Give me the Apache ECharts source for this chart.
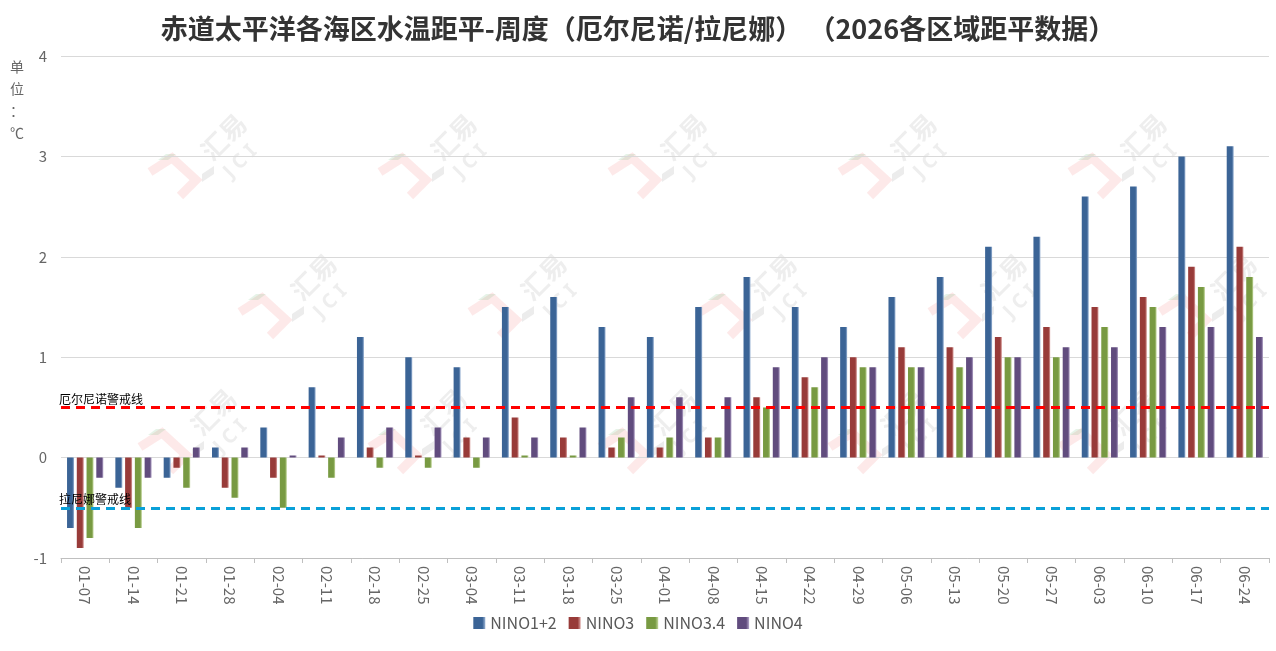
<!DOCTYPE html>
<html>
<head>
<meta charset="utf-8">
<script src="https://cdn.jsdelivr.net/npm/echarts@6/dist/echarts.min.js"></script>
<style>
  html,body{margin:0;padding:0;background:#fff;}
  .main{width:1276px;height:651px;}
</style>
</head>
<body>
<div class="main" id="main"></div>
<script>
var weeks=['01-07','01-14','01-21','01-28','02-04','02-11','02-18','02-25','03-04','03-11','03-18','03-25','04-01','04-08','04-15','04-22','04-29','05-06','05-13','05-20','05-27','06-03','06-10','06-17','06-24'];
var nino12=[-0.7,-0.3,-0.2,0.1,0.3,0.7,1.2,1.0,0.9,1.5,1.6,1.3,1.2,1.5,1.8,1.5,1.3,1.6,1.8,2.1,2.2,2.6,2.7,3.0,3.1];
var nino3=[-0.9,-0.5,-0.1,-0.3,-0.2,0.02,0.1,0.02,0.2,0.4,0.2,0.1,0.1,0.2,0.6,0.8,1.0,1.1,1.1,1.2,1.3,1.5,1.6,1.9,2.1];
var nino34=[-0.8,-0.7,-0.3,-0.4,-0.5,-0.2,-0.1,-0.1,-0.1,0.02,0.02,0.2,0.2,0.2,0.5,0.7,0.9,0.9,0.9,1.0,1.0,1.3,1.5,1.7,1.8];
var nino4=[-0.2,-0.2,0.1,0.1,0.02,0.2,0.3,0.3,0.2,0.2,0.3,0.6,0.6,0.6,0.9,1.0,0.9,0.9,1.0,1.0,1.1,1.1,1.3,1.3,1.2];
var elNinoLine=0.5,
    laNinaLine=-0.5;

var colors=[['#3b6496','#9ab3d4'],['#983b39','#d9a09e'],['#789a42','#c2d69c'],['#614c7e','#b3a5c8']];
function grad(c){
  return new echarts.graphic.LinearGradient(0,0,1,0,[
    {offset:0,color:c[0]},{offset:0.75,color:c[0]},{offset:1,color:c[1]}
  ]);
}

// 水印
function mark(x,y){
  return {
    type:'group',x:x,y:y,silent:true,z:-1,
    children:[
      {type:'polyline',shape:{points:[[-60,32],[-38,18],[-14,40],[-30,56]]},
       style:{stroke:'rgba(240,120,120,0.16)',lineWidth:9,fill:null}},
      {type:'polygon',shape:{points:[[-52,20],[-44,14],[-34,14],[-42,20]]},
       style:{fill:'rgba(80,170,90,0.14)'}},
      {type:'polygon',shape:{points:[[-8,34],[4,26],[4,34],[-8,42]]},
       style:{fill:'rgba(120,120,120,0.14)'}},
      {type:'text',x:-14,y:6,rotation:Math.PI/4,
       style:{text:'汇易',fill:'rgba(150,150,150,0.16)',font:'bold 26px "Noto Sans CJK SC"'}},
      {type:'text',x:10,y:28,rotation:Math.PI/4,
       style:{text:'J C I',fill:'rgba(150,150,150,0.16)',font:'bold 20px "Noto Sans"'}}
    ]
  };
}
var marks=[];
[210,440,670,900,1130].forEach(function(x){marks.push(mark(x,140));});
[300,530,760,990,1220].forEach(function(x){marks.push(mark(x,280));});
[200,430,660,890,1120].forEach(function(x){marks.push(mark(x,415));});

var myChart=echarts.init(document.getElementById('main'));

function bar(name,data,c,extra){
  var s={
    name:name,type:'bar',data:data,
    barGap:'40%',barCategoryGap:'25%',
    itemStyle:{color:grad(c)}
  };
  if(extra) s.markLine=extra;
  return s;
}

var option={
  textStyle:{fontFamily:'"Noto Sans CJK SC","Noto Sans",sans-serif'},
  title:{
    text:'赤道太平洋各海区水温距平-周度（厄尔尼诺/拉尼娜） （2026各区域距平数据）',
    left:'center',top:10,
    textStyle:{fontSize:27,fontWeight:'bold',color:'#333',fontFamily:'"Noto Sans CJK SC"'}
  },
  color:[colors[0][0],colors[1][0],colors[2][0],colors[3][0]],
  legend:{
    bottom:15,left:'center',itemWidth:12,itemHeight:12,itemGap:12,icon:'rect',
    textStyle:{color:'#595959',fontSize:16}
  },
  graphic:marks.concat([{
    type:'text',left:10,top:56,
    style:{text:'单\n位\n：\n℃',fill:'#666',font:'14px "Noto Sans CJK SC"',lineHeight:22}
  }]),
  grid:{left:61,right:7,top:56,bottom:93},
  xAxis:{
    type:'category',data:weeks,
    axisLine:{onZero:false,lineStyle:{color:'#bfbfbf'}},
    axisTick:{show:true,alignWithLabel:false,length:5,lineStyle:{color:'#bfbfbf'}},
    axisLabel:{rotate:-90,color:'#666',fontSize:15,margin:8}
  },
  yAxis:{
    type:'value',min:-1,max:4,interval:1,
    axisLine:{show:false},axisTick:{show:false},
    axisLabel:{color:'#666',fontSize:15,margin:14},
    splitLine:{lineStyle:{color:'#d9d9d9'}}
  },
  series:[
    bar('NINO1+2',nino12,colors[0],{
      symbol:'none',silent:true,
      data:[
        {yAxis:elNinoLine,lineStyle:{color:'#ff0000',type:[9,6],width:3},
         label:{formatter:'厄尔尼诺警戒线',position:'insideStartTop',color:'#000',fontSize:12,distance:[-2,2]}},
        {yAxis:laNinaLine,lineStyle:{color:'#0aa0d8',type:[9,6],width:3},
         label:{formatter:'拉尼娜警戒线',position:'insideStartTop',color:'#000',fontSize:12,distance:[-2,2]}}
      ]
    }),
    bar('NINO3',nino3,colors[1]),
    bar('NINO3.4',nino34,colors[2]),
    bar('NINO4',nino4,colors[3])
  ]
};

myChart.setOption(option);
</script>
</body>
</html>
